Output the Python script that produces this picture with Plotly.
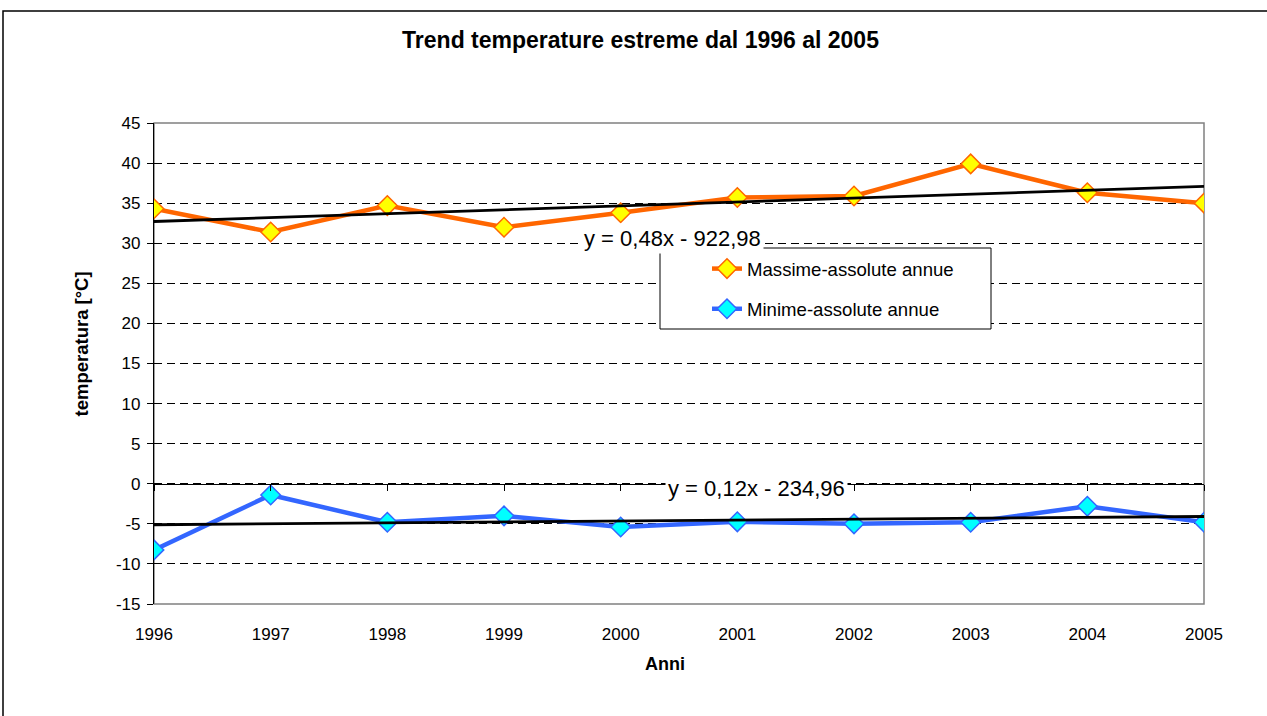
import numpy as np
import plotly.graph_objects as go

years = [1996, 1997, 1998, 1999, 2000, 2001, 2002, 2003, 2004, 2005]
massime = [34.3, 31.4, 34.7, 32.0, 33.8, 35.7, 35.9, 39.9, 36.3, 35.0]
minime = [-8.25, -1.4, -4.8, -4.0, -5.4, -4.75, -5.0, -4.8, -2.8, -4.8]
y_ticks = [-15, -10, -5, 0, 5, 10, 15, 20, 25, 30, 35, 40, 45]
eq_max = "y = 0,48x - 922,98"
eq_min = "y = 0,12x - 234,96"

FONT = "Liberation Sans, Arial, sans-serif"
W, H = 1267, 716
L, R, T, B = 154, 63, 123, 112
PW, PH = W - L - R, H - T - B


def px_x(p):
    return (p - L) / PW


def px_y(p):
    return (H - B - p) / PH


yrs = np.array(years, dtype=float)
cmax = np.polyfit(yrs, massime, 1)
cmin = np.polyfit(yrs, minime, 1)

fig = go.Figure()

fig.add_trace(go.Scatter(
    x=years, y=massime, mode="lines+markers", name="Massime-assolute annue",
    legendgroup="a",
    line=dict(color="#FF6600", width=4.5),
    marker=dict(symbol="diamond", size=15, color="#FFFF00",
                line=dict(color="#FF6600", width=1.5)),
))
fig.add_trace(go.Scatter(
    x=years, y=minime, mode="lines+markers", name="Minime-assolute annue",
    legendgroup="b",
    line=dict(color="#3366FF", width=4.5),
    marker=dict(symbol="diamond", size=15, color="#00FFFF",
                line=dict(color="#3366FF", width=1.5)),
))
fig.add_trace(go.Scatter(
    x=[years[0], years[-1]], y=np.polyval(cmax, [years[0], years[-1]]),
    mode="lines", line=dict(color="black", width=2.8), showlegend=False,
))
fig.add_trace(go.Scatter(
    x=[years[0], years[-1]], y=np.polyval(cmin, [years[0], years[-1]]),
    mode="lines", line=dict(color="black", width=2.8), showlegend=False,
))
# invisible trace on the axis crossing at y=0 (for tick marks)
fig.add_trace(go.Scatter(x=years, y=[0] * len(years), xaxis="x2",
                         mode="markers", marker=dict(opacity=0),
                         showlegend=False, hoverinfo="skip"))

fig.add_annotation(x=2000.44, y=30.6, text=eq_max, showarrow=False,
                   font=dict(family=FONT, size=22, color="black"),
                   bgcolor="white", borderpad=2)
fig.add_annotation(x=2001.16, y=-0.65, text=eq_min, showarrow=False,
                   font=dict(family=FONT, size=22, color="black"),
                   bgcolor="white", borderpad=2)

# axis titles
fig.add_annotation(xref="paper", yref="paper", x=px_x(81), y=px_y(344.5),
                   text="<b>temperatura [°C]</b>", textangle=-90,
                   showarrow=False, xanchor="center", yanchor="middle",
                   font=dict(family=FONT, size=18.5, color="black"))
fig.add_annotation(xref="paper", yref="paper", x=px_x(665), y=px_y(664),
                   text="<b>Anni</b>", showarrow=False,
                   xanchor="center", yanchor="middle",
                   font=dict(family=FONT, size=18, color="black"))

shapes = [
    # outer chart border
    dict(type="rect", xref="paper", yref="paper",
         x0=px_x(3), x1=px_x(1290), y0=px_y(740), y1=px_y(11),
         line=dict(color="black", width=1.5), layer="below"),
    # plot area border
    dict(type="rect", xref="paper", yref="paper", x0=0, x1=1, y0=0, y1=1,
         line=dict(color="#808080", width=1.5), layer="below"),
    # legend box
    dict(type="rect", xref="paper", yref="paper",
         x0=px_x(660), x1=px_x(991), y0=px_y(329), y1=px_y(248),
         line=dict(color="black", width=1), fillcolor="white", layer="above"),
]

fig.update_layout(
    width=W, height=H,
    margin=dict(l=L, r=R, t=T, b=B),
    paper_bgcolor="white", plot_bgcolor="white",
    font=dict(family=FONT, size=17, color="black"),
    title=dict(text="<b>Trend temperature estreme dal 1996 al 2005</b>",
               x=640.5 / W, xref="container", xanchor="center",
               y=1 - 40 / H, yref="container", yanchor="middle",
               font=dict(family=FONT, size=23, color="black")),
    showlegend=True,
    legend=dict(x=px_x(707), y=px_y(250), xanchor="left", yanchor="top",
                bgcolor="rgba(0,0,0,0)", borderwidth=0,
                font=dict(family=FONT, size=18.6, color="black"),
                tracegroupgap=13, traceorder="grouped"),
    shapes=shapes,
    xaxis=dict(range=[1996, 2005], tickmode="array", tickvals=years,
               ticktext=[str(y) for y in years], showgrid=False,
               zeroline=False, showline=False, ticks="",
               ticklabelstandoff=18,
               tickfont=dict(family=FONT, size=17)),
    xaxis2=dict(range=[1996, 2005], overlaying="x", anchor="free",
                position=15 / 60, side="bottom", tickmode="array",
                tickvals=years, showticklabels=False, ticks="outside",
                ticklen=6, tickcolor="black", tickwidth=1,
                showline=True, linecolor="black", linewidth=1.2,
                showgrid=False, zeroline=False),
    yaxis=dict(range=[-15, 45], tickmode="array", tickvals=y_ticks,
               ticktext=[str(v) for v in y_ticks],
               showgrid=True, gridcolor="black", gridwidth=1,
               griddash="8px,5px", zeroline=False,
               showline=True, linecolor="black", linewidth=1.2,
               ticks="outside", ticklen=6, tickcolor="black",
               ticklabelstandoff=3,
               tickfont=dict(family=FONT, size=17)),
)

fig.write_html("out.html", config={"displayModeBar": False},
               post_script="document.body.style.margin='0';")
